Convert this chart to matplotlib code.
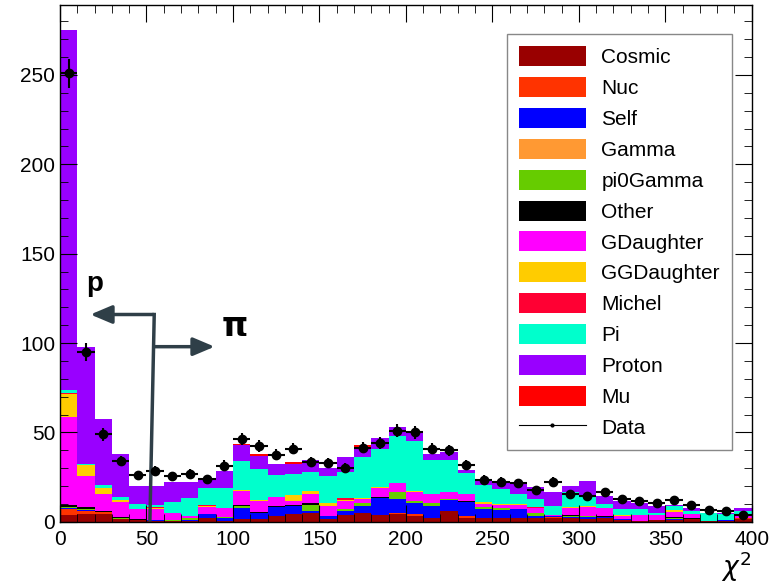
import numpy as np
import matplotlib.pyplot as plt
from matplotlib.lines import Line2D
from matplotlib.patches import Patch

plt.rcParams['font.family'] = ['Liberation Sans', 'DejaVu Sans']

# bin edges: 40 bins of width 10 from 0 to 400
bin_lo = np.arange(0, 400, 10)

# stacked MC components (bottom to top), one value per bin
cosmic = [4, 4.3, 4.5, 1.5, 1, 0.5, 0.5, 0.5, 2, 0.5,
          1.5, 1.5, 3.4, 4.3, 4.7, 1.5, 4, 5, 4, 4.3,
          3.4, 2.4, 6.2, 2.4, 2.4, 2.4, 2.4, 1.9, 2, 2,
          1.5, 2, 1, 0.3, 1, 1.2, 1.5, 0.3, 0.5, 1.5]
nuc = [3, 2, 0.8, 0, 0, 0, 0, 0, 0, 0,
       0, 0, 0, 0, 0, 0, 0, 0, 0, 0.9,
       0.9, 0, 0, 1, 0, 0, 0, 0, 0.5, 0,
       0, 0, 0, 0, 0, 0, 0, 0, 0, 0.5]
self_ = [0.5, 0.3, 0, 0, 0.3, 0.3, 0, 0.5, 2.5, 1.5,
         6, 3.7, 5, 4.7, 1.5, 1.5, 2, 3.6, 9.1, 7.8,
         6.5, 6.2, 6, 7.5, 4.7, 4.1, 4.7, 1.5, 0.5, 0.7,
         1, 0.5, 0.5, 0, 0, 0.5, 0, 0, 0.3, 0]
gamma = [0] * 40
pi0gamma = [0.7, 0.5, 0, 0.5, 0, 0, 0.5, 1, 0, 0.5,
            1.5, 0, 0, 0, 3.3, 0.4, 1, 1.8, 0, 3.8,
            1, 1.7, 0.5, 0, 1.3, 1.5, 0, 1.3, 0.5, 0.7,
            0.9, 0, 0, 0, 0, 0.5, 0, 0, 0, 0]
other = [1.5, 1, 0.5, 0.5, 0.5, 0, 0, 0, 0, 0,
         0.3, 0.3, 0.5, 0.5, 1.3, 0, 0, 0, 0.6, 0,
         0, 0, 0, 1, 0, 0, 0, 0, 0, 0.5,
         0, 0.9, 0, 0, 0.3, 0.7, 0.5, 0, 0, 0]
gdaughter = [49, 17.5, 10, 8.4, 5.6, 6.5, 4, 1.5, 4, 5,
             7.8, 6.3, 5.2, 2.2, 4.7, 5.6, 4.7, 2.6, 5.2, 4.7,
             5, 5.2, 4.1, 3.6, 1.5, 1.5, 2.4, 3.3, 0.5, 3.6,
             4.7, 4.6, 1.5, 3.3, 2.4, 2.8, 2.4, 0, 0, 1.5]
ggdaughter = [13, 6, 3, 1.3, 0, 0.7, 0, 0, 0.5, 0.5,
              0.7, 0.7, 0, 3.1, 1.5, 1.3, 0.5, 0.6, 0.7, 0,
              0.3, 0.3, 0, 0, 1, 0.7, 0.7, 0, 0, 1,
              0.5, 0, 0.7, 0.5, 0, 0.9, 0, 0, 0, 0]
michel = [0.3, 0, 0, 0, 0, 0.5, 0, 0, 0.3, 0,
          0, 0, 0, 0, 0, 0, 0.9, 0, 0, 0,
          0, 0, 0, 0, 0, 0, 0, 0.5, 0, 0,
          0, 0, 0, 0, 0, 0, 0, 0, 0, 0]
pi = [2, 1, 2, 1.5, 2.4, 1, 6, 10, 9.5, 11,
      16.4, 17.2, 12.1, 11.8, 11, 15.4, 15, 22.8, 21.4, 26.3,
      28, 19, 17.7, 11.7, 9.5, 8.2, 5.3, 4.2, 4.7, 8,
      5.6, 1.9, 3.4, 3, 1.5, 2.4, 1.4, 4.9, 3.5, 2.8]
proton = [201, 65, 37, 24.3, 10, 10.5, 11.2, 9, 6, 9.5,
          9, 7.1, 6, 5.6, 6.6, 4.7, 8.4, 5.6, 5.8, 5,
          5.8, 3.4, 4.3, 1.7, 3.4, 4.7, 6, 6.9, 7.8, 3.7,
          8.5, 4.6, 4.3, 3.7, 3.8, 0.3, 2.2, 0, 0.9, 1.3]
mu = [0, 0, 0, 0, 0, 0, 0, 0, 0, 0,
      0.5, 1.3, 0, 1.3, 0, 0, 0, 0.9, 0, 0.4,
      0, 0, 0, 0, 0, 0, 0, 0, 0, 0,
      0, 0, 0, 0, 0, 0, 0, 0, 0, 0]

data = [251, 95, 49, 34, 26, 28.5, 25.5, 27, 24, 31.5,
        46.5, 42.5, 37.5, 41, 33.5, 33, 30, 41.5, 44, 51,
        50, 41, 40, 32, 23.5, 22.5, 21.5, 18, 22.5, 15.5,
        14.5, 16.5, 13, 11.5, 10.5, 12.5, 9.5, 6.5, 6, 4]

labels = ['Cosmic', 'Nuc', 'Self', 'Gamma', 'pi0Gamma', 'Other', 'GDaughter',
          'GGDaughter', 'Michel', 'Pi', 'Proton', 'Mu']
components = [cosmic, nuc, self_, gamma, pi0gamma, other, gdaughter,
              ggdaughter, michel, pi, proton, mu]
colors = ['#990000', '#ff3300', '#0000ff', '#ff9933', '#66cc00', '#000000',
          '#ff00ff', '#ffcc00', '#ff0033', '#00ffcc', '#9900ff', '#ff0000']

fig = plt.figure(figsize=(7.79, 5.87), dpi=100)
ax = fig.add_axes([0.077, 0.111, 0.888, 0.88])

bottom = np.zeros(len(bin_lo))
for vals, col in zip(components, colors):
    vals = np.array(vals, dtype=float)
    ax.bar(bin_lo, vals, width=10, bottom=bottom, align='edge', color=col,
           linewidth=0)
    bottom += vals

# data with stat errors (data appears scaled)
data = np.array(data, dtype=float)
ax.errorbar(bin_lo + 5, data, xerr=5, yerr=np.sqrt(data * 0.255), fmt='o',
            color='black', markersize=6, elinewidth=1.5, capsize=0)

# p / pi selection arrows
arrow_col = '#2f3f48'
ax.plot([54.5, 52], [116, 1], color=arrow_col, lw=2.5)
ax.annotate('', xy=(16, 116), xytext=(55.5, 116),
            arrowprops=dict(arrowstyle='-|>,head_length=1.3,head_width=0.55',
                            color=arrow_col, lw=2.5))
ax.annotate('', xy=(91, 98), xytext=(53.5, 98),
            arrowprops=dict(arrowstyle='-|>,head_length=1.3,head_width=0.55',
                            color=arrow_col, lw=2.5))
ax.text(15, 133, 'p', fontsize=20, fontweight='bold', va='center')
ax.text(93, 109, r'$\mathbf{\pi}$', fontsize=24, va='center')

ax.set_xlim(0, 400)
ax.set_ylim(0, 289)
ax.set_xticks(np.arange(0, 401, 50))
ax.set_xticks(np.arange(0, 401, 10), minor=True)
ax.set_yticks(np.arange(0, 251, 50))
ax.set_yticks(np.arange(0, 290, 10), minor=True)
ax.tick_params(which='both', direction='in', top=True, right=True, labelsize=15)
ax.tick_params(which='major', length=12)
ax.tick_params(which='minor', length=6)
ax.tick_params(axis='x', pad=6)
for s in ax.spines.values():
    s.set_linewidth(1.0)
# x axis title placed below the last tick label, like ROOT does
fig.text(0.945, 0.035, r'$\chi^2$', fontsize=19, ha='center', va='center')

handles = [Patch(facecolor=c, edgecolor='none') for c in colors]
handles.append(Line2D([], [], color='black', lw=0.8, marker='o', markersize=2))
leg = ax.legend(handles, labels + ['Data'], loc='upper right',
                bbox_to_anchor=(0.972, 0.945), borderaxespad=0, fontsize=15,
                frameon=True, fancybox=False, edgecolor='#888888',
                framealpha=1, handlelength=3.2, handleheight=1.1,
                labelspacing=0.47, borderpad=0.6, handletextpad=0.75)
leg.get_frame().set_linewidth(1.0)

fig.savefig('out.png', dpi=100)
